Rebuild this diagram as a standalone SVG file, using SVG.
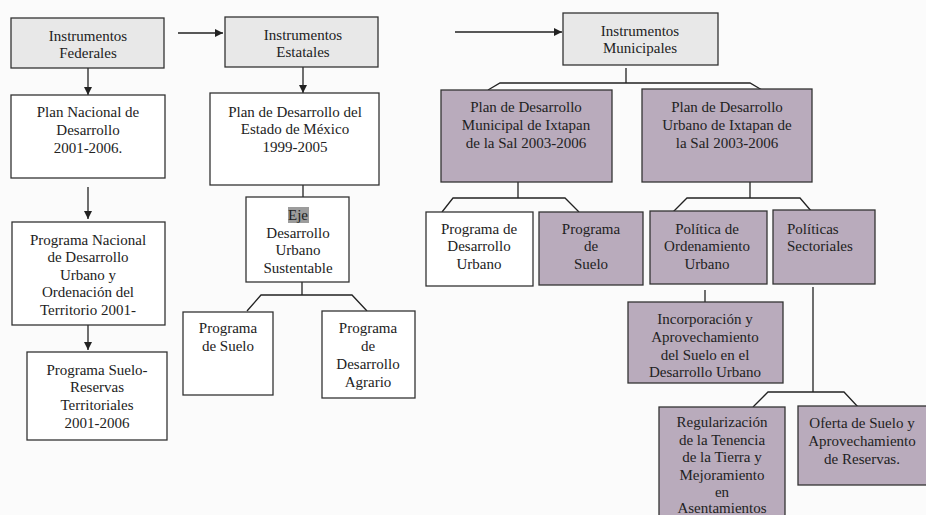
<svg xmlns="http://www.w3.org/2000/svg" width="926" height="515" viewBox="0 0 926 515">
<defs>
<style>
.bx{stroke:#333;stroke-width:1.3}
.w{fill:#fff}
.g{fill:#e8e8e8}
.p{fill:#b9abbc}
.t text{font-size:15px;fill:#222;text-anchor:middle}
.t text.l{text-anchor:start}
.c{stroke:#222;stroke-width:1.3;fill:none}
</style>
<marker id="ah" viewBox="0 0 10 10" refX="10" refY="5" markerWidth="8" markerHeight="8" markerUnits="userSpaceOnUse" orient="auto">
<path d="M0,0 L10,5 L0,10 Z" fill="#222"/>
</marker>
</defs>
<rect width="926" height="515" fill="#fbfbfb"/>

<g id="connectors">
<line class="c" x1="88" y1="68" x2="88" y2="95" marker-end="url(#ah)"/>
<line class="c" x1="88" y1="187" x2="88" y2="219" marker-end="url(#ah)"/>
<line class="c" x1="88" y1="325" x2="88" y2="350" marker-end="url(#ah)"/>
<line class="c" x1="178" y1="33" x2="223" y2="33" marker-end="url(#ah)"/>
<line class="c" x1="303" y1="67" x2="303" y2="93" marker-end="url(#ah)"/>
<line class="c" x1="303" y1="185" x2="303" y2="197"/>
<path class="c" d="M302,282 V295 M247,311 L261,295 H352 L367,311"/>
<line class="c" x1="455" y1="32" x2="562" y2="32" marker-end="url(#ah)"/>
<path class="c" d="M626,68 V83 M488,90 L500,83 H750 L762,90"/>
<path class="c" d="M518,182 V198 M442,212 L453,198 H565 L579,212"/>
<path class="c" d="M750,182 V198 M673,212 L687,198 H800 L812,212"/>
<line class="c" x1="705" y1="290" x2="705" y2="302"/>
<path class="c" d="M813,287 V392 M753,407 L768,392 H844 L858,407"/>
</g>

<g class="t" font-family="'Liberation Serif', 'Times New Roman', 'DejaVu Serif', serif">
<g id="federales"><rect class="bx g" x="11" y="18" width="153" height="50"/>
<text x="88" y="41">Instrumentos</text><text x="88" y="58">Federales</text></g>

<g id="plan-nacional"><rect class="bx w" x="11" y="95" width="154" height="83"/>
<text x="88" y="117">Plan Nacional de</text><text x="88" y="135">Desarrollo</text><text x="88" y="153">2001-2006.</text></g>

<g id="programa-nacional"><rect class="bx w" x="12" y="222" width="153" height="103"/>
<text x="88" y="245">Programa Nacional</text><text x="88" y="262">de Desarrollo</text><text x="88" y="280">Urbano y</text><text x="88" y="297">Ordenación del</text><text x="88" y="315">Territorio 2001-</text></g>

<g id="programa-suelo-reservas"><rect class="bx w" x="27" y="352" width="140" height="88"/>
<text x="97" y="375">Programa Suelo-</text><text x="97" y="392">Reservas</text><text x="97" y="410">Territoriales</text><text x="97" y="428">2001-2006</text></g>

<g id="estatales"><rect class="bx g" x="225" y="17" width="153" height="50"/>
<text x="303" y="40">Instrumentos</text><text x="303" y="57">Estatales</text></g>

<g id="plan-estado"><rect class="bx w" x="210" y="93" width="169" height="92"/>
<text x="295" y="117">Plan de Desarrollo del</text><text x="295" y="134">Estado de México</text><text x="295" y="152">1999-2005</text></g>

<g id="eje"><rect class="bx w" x="246" y="197" width="103" height="85"/>
<rect x="288" y="207" width="21" height="16" fill="#9c9c9c"/>
<text x="298" y="220">Eje</text><text x="298" y="238">Desarrollo</text><text x="298" y="255">Urbano</text><text x="298" y="273">Sustentable</text></g>

<g id="programa-suelo-estatal"><rect class="bx w" x="183" y="312" width="90" height="83"/>
<text x="228" y="333">Programa</text><text x="228" y="351">de Suelo</text></g>

<g id="programa-agrario"><rect class="bx w" x="322" y="311" width="93" height="87"/>
<text x="368" y="333">Programa</text><text x="368" y="351">de</text><text x="368" y="369">Desarrollo</text><text x="368" y="387">Agrario</text></g>

<g id="municipales"><rect class="bx g" x="563" y="13" width="155" height="52"/>
<text x="640" y="36">Instrumentos</text><text x="640" y="53">Municipales</text></g>

<g id="plan-municipal"><rect class="bx p" x="441" y="90" width="171" height="92"/>
<text x="526" y="112">Plan de Desarrollo</text><text x="526" y="130">Municipal de Ixtapan</text><text x="526" y="148">de la Sal 2003-2006</text></g>

<g id="plan-urbano"><rect class="bx p" x="642" y="89" width="170" height="93"/>
<text x="727" y="112">Plan de Desarrollo</text><text x="727" y="130">Urbano de Ixtapan de</text><text x="727" y="148">la Sal 2003-2006</text></g>

<g id="programa-desarrollo-urbano"><rect class="bx w" x="426" y="212" width="107" height="74"/>
<text x="479" y="234">Programa de</text><text x="479" y="251">Desarrollo</text><text x="479" y="269">Urbano</text></g>

<g id="programa-suelo-municipal"><rect class="bx p" x="539" y="212" width="104" height="73"/>
<text x="591" y="234">Programa</text><text x="591" y="251">de</text><text x="591" y="269">Suelo</text></g>

<g id="politica-ordenamiento"><rect class="bx p" x="650" y="211" width="117" height="73"/>
<text x="707" y="234">Política de</text><text x="707" y="251">Ordenamiento</text><text x="707" y="269">Urbano</text></g>

<g id="politicas-sectoriales"><rect class="bx p" x="773" y="210" width="102" height="74"/>
<text class="l" x="787" y="234">Políticas</text><text class="l" x="787" y="251">Sectoriales</text></g>

<g id="incorporacion"><rect class="bx p" x="628" y="302" width="155" height="81"/>
<text x="705" y="324">Incorporación y</text><text x="705" y="342">Aprovechamiento</text><text x="705" y="360">del Suelo en el</text><text x="705" y="377">Desarrollo Urbano</text></g>

<g id="regularizacion"><rect class="bx p" x="659" y="407" width="126" height="120"/>
<text x="722" y="427">Regularización</text><text x="722" y="444.5">de la Tenencia</text><text x="722" y="462">de la Tierra y</text><text x="722" y="479.5">Mejoramiento</text><text x="722" y="497">en</text><text x="722" y="513">Asentamientos</text></g>

<g id="oferta"><rect class="bx p" x="798" y="406" width="135" height="79"/>
<text x="862" y="428">Oferta de Suelo y</text><text x="862" y="446">Aprovechamiento</text><text x="862" y="464">de Reservas.</text></g>
</g>
</svg>
